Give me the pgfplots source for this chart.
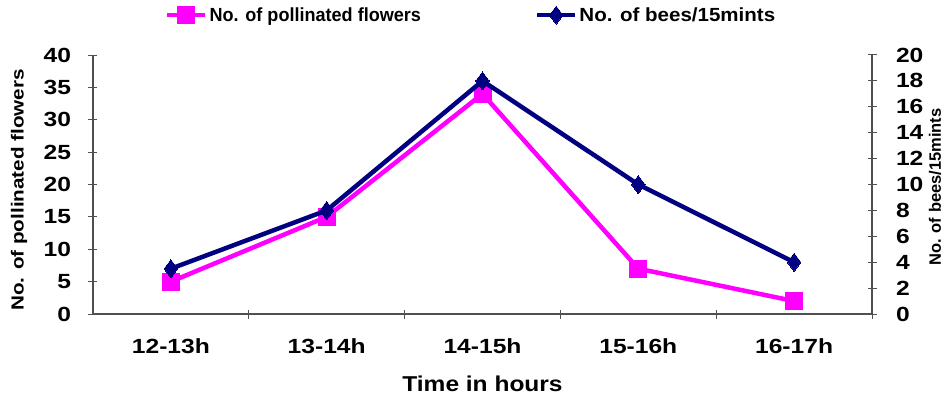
\documentclass[border=0pt]{standalone}
\usepackage{pgfplots}
\pgfplotsset{compat=1.18}
\usepackage{fontspec}
\setmainfont{Liberation Sans}
\newfontfamily\tickfont[FakeStretch=1.2]{Liberation Sans}
\newfontfamily\xlabfont[FakeStretch=1.14]{Liberation Sans}
\newfontfamily\ylabfont[FakeStretch=1.18]{Liberation Sans}
\newfontfamily\legfont[FakeStretch=0.95]{Liberation Sans}
\newfontfamily\legfontb[FakeStretch=1.08]{Liberation Sans}
\definecolor{pinkc}{RGB}{255,0,255}
\definecolor{navyc}{RGB}{0,0,128}
\definecolor{axc}{RGB}{80,80,80}
\begin{document}
\begin{tikzpicture}[x=1pt,y=1pt]
\pgfplotsset{
  base/.style={
    scale only axis, width=779pt, height=259pt,
    at={(0pt,0pt)}, anchor=south west,
    xmin=-0.5, xmax=4.5,
    /pgf/number format/assume math mode=true,
    ticklabel style={font=\tickfont\fontsize{20.5}{24}\selectfont\bfseries},
    axis line style={axc, line width=1.2pt},
    tick style={axc, line width=1pt},
    major tick length=9pt,
  }
}
% left axis: pollinated flowers
\begin{axis}[base,
  axis x line=bottom, axis y line=left,
  x axis line style={-}, y axis line style={-},
  tick align=center,
  ymin=0, ymax=40, ytick={0,5,...,40},
  yticklabel style={xshift=-14pt},
  xtick={0.5,1.5,2.5,3.5,4.5}, xticklabels={},
  extra x ticks={0,1,2,3,4},
  extra x tick labels={12-13h,13-14h,14-15h,15-16h,16-17h},
  extra x tick style={major tick length=0pt, xticklabel style={yshift=-21pt}},
  xlabel={Time in hours},
  xlabel style={at={(axis description cs:0.5,0)}, anchor=center, yshift=-70pt,
    font=\xlabfont\fontsize{21.5}{25}\selectfont\bfseries},
  ylabel={No. of pollinated flowers},
  ylabel style={at={(axis description cs:-0.095,0.479)}, anchor=center,
    font=\ylabfont\fontsize{17.5}{21}\selectfont\bfseries},
  legend style={at={(axis description cs:0.0924,1.154)}, anchor=west,
    draw=none, fill=none, legend columns=2, inner sep=0pt,
    font=\legfont\fontsize{19}{22}\selectfont\bfseries,
    /tikz/every even column/.append style={column sep=112pt}},
  legend image code/.code={
    \draw[#1, mark repeat=2, mark phase=2] plot coordinates {(0pt,0pt) (19pt,0pt) (38pt,0pt)};},
]
\addplot[pinkc, line width=4.5pt, mark=square*, mark size=8.5pt, mark options={solid, line width=0pt}]
  coordinates {(0,5) (1,15) (2,34) (3,7) (4,2)};
\addlegendentry{No. of pollinated flowers}
\addlegendimage{navyc, line width=4.5pt, mark=diamond*, mark size=9pt, mark options={solid, line width=0pt}}
\addlegendentry{\legfontb\fontsize{19}{22}\selectfont\bfseries No. of bees/15mints}
\end{axis}
% right axis: bees
\begin{axis}[base,
  axis x line=none, axis y line=right,
  y axis line style={-},
  tick align=center,
  ymin=0, ymax=20, ytick={0,2,...,20},
  yticklabel style={xshift=16pt},
  ylabel={No. of bees/15mints},
  ylabel style={at={(axis description cs:1.081,0.49)}, anchor=center,
    font=\fontsize{16.5}{20}\selectfont\bfseries},
]
\addplot[navyc, line width=4.5pt, mark=diamond*, mark size=9pt, mark options={solid, line width=0pt}]
  coordinates {(0,3.5) (1,8) (2,18) (3,10) (4,4)};
\end{axis}
\pgfresetboundingbox
\path (-93pt,-88pt) rectangle (856pt,314pt);
\end{tikzpicture}
\end{document}
